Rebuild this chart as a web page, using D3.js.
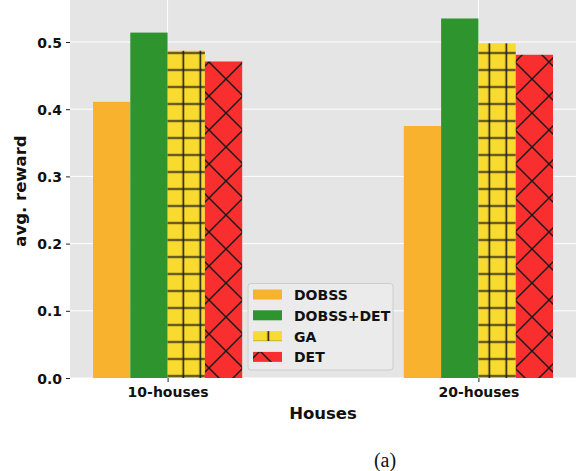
<!DOCTYPE html>
<html>
<head>
<meta charset="utf-8">
<script src="https://cdn.jsdelivr.net/npm/d3@7"></script>
<style>
    body { margin: 0; background: #fff; }
    svg { display: block; }
    .tick-label { font-family: "DejaVu Sans", sans-serif; font-weight: bold; font-size: 14px; fill: #111; }
    .axis-title { font-family: "DejaVu Sans", sans-serif; font-weight: bold; fill: #111; }
</style>
</head>
<body>
<svg id="svg"></svg>
<script>
// data
const categories = ['10-houses', '20-houses'];
const seriesNames = ['DOBSS', 'DOBSS+DET', 'GA', 'DET'];
const dobss = [0.411, 0.375];
const dobssDet = [0.514, 0.535];
const ga = [0.487, 0.498];
const det = [0.471, 0.481];
const yTicks = [0.0, 0.1, 0.2, 0.3, 0.4, 0.5];

const seriesValues = [dobss, dobssDet, ga, det];
const colors = ['#f9b22e', '#2e942e', '#f9da2e', '#f92e2e'];
const fills = [colors[0], colors[1], 'url(#hatch-plus)', 'url(#hatch-x)'];

const width = 578, height = 471;
const margin = {top: 0, left: 70, right: 2, bottom: 93};
const plotW = width - margin.left - margin.right;
const plotH = height - margin.top - margin.bottom;

const barW = 0.12;

const svg = d3.select('#svg')
    .attr('width', width)
    .attr('height', height);

// hatch patterns, tiled in page space like matplotlib does
// (every hatched shape is drawn in untranslated page coordinates)
const defs = svg.append('defs');

const plus = defs.append('pattern')
    .attr('id', 'hatch-plus')
    .attr('patternUnits', 'userSpaceOnUse')
    .attr('x', 13.3 - 8.5).attr('y', 2 - 8.5)
    .attr('width', 17).attr('height', 17);
plus.append('rect').attr('width', 17).attr('height', 17).attr('fill', colors[2]);
plus.append('line').attr('x1', 8.5).attr('x2', 8.5).attr('y1', 0).attr('y2', 17)
    .attr('stroke', '#1a1a1a').attr('stroke-width', 1.6);
plus.append('line').attr('y1', 8.5).attr('y2', 8.5).attr('x1', 0).attr('x2', 17)
    .attr('stroke', '#1a1a1a').attr('stroke-width', 1.6);

const cross = defs.append('pattern')
    .attr('id', 'hatch-x')
    .attr('patternUnits', 'userSpaceOnUse')
    .attr('x', 22).attr('y', 11)
    .attr('width', 34).attr('height', 34);
cross.append('rect').attr('width', 34).attr('height', 34).attr('fill', colors[3]);
[[-2, -2, 36, 36], [36, -2, -2, 36]].forEach(l => {
    cross.append('line')
        .attr('x1', l[0]).attr('y1', l[1]).attr('x2', l[2]).attr('y2', l[3])
        .attr('stroke', '#1a1a1a').attr('stroke-width', 1.5);
});

const xScale = d3.scaleLinear()
    .domain([-0.314, 1.314])
    .range([margin.left, margin.left + plotW]);

const yScale = d3.scaleLinear()
    .domain([0, 0.5625])
    .range([margin.top + plotH, margin.top]);

const g = svg.append('g');

g.append('rect')
    .attr('x', margin.left)
    .attr('y', margin.top)
    .attr('width', plotW)
    .attr('height', plotH)
    .attr('fill', '#e5e5e5');

// grid
g.selectAll('.hgrid')
    .data(yTicks)
    .enter().append('line')
    .attr('class', 'hgrid')
    .attr('x1', margin.left).attr('x2', margin.left + plotW)
    .attr('y1', d => yScale(d)).attr('y2', d => yScale(d))
    .attr('stroke', '#fff').attr('stroke-width', 1);

g.selectAll('.vgrid')
    .data(categories)
    .enter().append('line')
    .attr('class', 'vgrid')
    .attr('x1', (d, i) => xScale(i)).attr('x2', (d, i) => xScale(i))
    .attr('y1', margin.top).attr('y2', margin.top + plotH)
    .attr('stroke', '#fff').attr('stroke-width', 1);

// bars
seriesValues.forEach((vals, s) => {
    const offset = (s - 1.5) * barW;
    g.append('g').selectAll('rect')
        .data(vals)
        .enter().append('rect')
        .attr('x', (d, i) => xScale(i + offset - barW / 2))
        .attr('width', xScale(barW) - xScale(0))
        .attr('y', d => yScale(d))
        .attr('height', d => yScale(0) - yScale(d))
        .attr('fill', fills[s]);
});

// axes
const yAxis = d3.axisLeft(yScale)
    .tickValues(yTicks)
    .tickFormat(d3.format('.1f'))
    .tickSize(4)
    .tickPadding(4);

const domY = svg.append('g')
    .attr('transform', 'translate(' + margin.left + ',0)')
    .call(yAxis);
domY.select('.domain').remove();
domY.selectAll('line').attr('stroke', '#222');
domY.selectAll('text').attr('class', 'tick-label').attr('dy', '0.36em');

const xAxis = d3.axisBottom(xScale)
    .tickValues([0, 1])
    .tickFormat(i => categories[i])
    .tickSize(4)
    .tickPadding(5);

const domX = svg.append('g')
    .attr('transform', 'translate(0,' + (margin.top + plotH) + ')')
    .call(xAxis);
domX.select('.domain').remove();
domX.selectAll('line').attr('stroke', '#222');
domX.selectAll('text').attr('class', 'tick-label');

// titles
svg.append('text')
    .attr('class', 'axis-title')
    .attr('x', margin.left + plotW / 2)
    .attr('y', plotH + 41)
    .attr('text-anchor', 'middle')
    .attr('font-size', '16.5px')
    .text('Houses');

svg.append('text')
    .attr('class', 'axis-title')
    .attr('transform', 'translate(26,191) rotate(-90)')
    .attr('text-anchor', 'middle')
    .attr('font-size', '16.5px')
    .text('avg. reward');

// legend (kept in page coordinates so the hatch tiling lines up)
const lx = 248, ly = 283.5;

svg.append('rect')
    .attr('x', lx).attr('y', ly)
    .attr('width', 145)
    .attr('height', 86.5)
    .attr('rx', 3)
    .attr('fill', '#ebebeb')
    .attr('stroke', '#cccccc')
    .attr('stroke-width', 1);

const rowY = d3.scaleLinear().domain([0, 1]).range([ly + 11.5, ly + 32.3]);

seriesNames.forEach((name, s) => {
    const cy = rowY(s);
    svg.append('rect')
        .attr('x', lx + 5).attr('y', cy - 5.5)
        .attr('width', 29).attr('height', 10)
        .attr('fill', fills[s]);
    svg.append('text')
        .attr('class', 'tick-label')
        .attr('x', lx + 46)
        .attr('y', cy)
        .attr('dy', '0.36em')
        .text(name);
});

// caption
svg.append('text')
    .attr('x', 385)
    .attr('y', 467)
    .attr('text-anchor', 'middle')
    .attr('font-family', '"Liberation Serif", serif')
    .attr('font-size', '20px')
    .attr('fill', '#111')
    .text('(a)');
</script>
</body>
</html>
